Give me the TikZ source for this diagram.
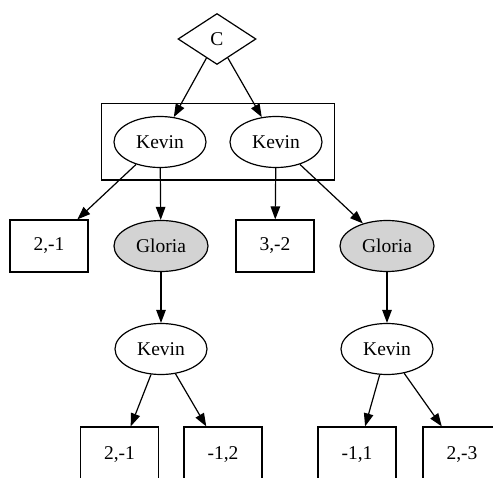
\documentclass[tikz,border=0pt]{standalone}
\usepackage{fontspec}
\setmainfont{Liberation Serif}
\usetikzlibrary{shapes.geometric,arrows.meta,fit}
\begin{document}
\begin{tikzpicture}[x=1pt,y=-1pt,
  line width=1.2pt,
  every node/.style={font=\fontsize{19.5}{23}\selectfont, inner sep=0pt},
  chance/.style={draw, diamond, minimum width=78pt, minimum height=51pt},
  player/.style={draw, ellipse, minimum width=92pt, minimum height=51pt},
  pgray/.style={player, fill={rgb,255:red,211;green,211;blue,211}, minimum width=94pt},
  payoff/.style={draw, rectangle, minimum width=78pt, minimum height=52pt},
  leaf/.style={payoff, minimum height=56pt},
  edge/.style={-{Triangle[length=13pt,width=9.5pt]}}]
\clip (0,0) rectangle (493,478);

% root chance node
\node[chance] (c) at (217,39) {C};

% first moves of Kevin (one information set)
\node[player] (k1) at (160,142) {Kevin};
\node[player] (k2) at (276,142) {Kevin};
\node[draw, rectangle, fit=(k1)(k2), inner sep=12pt] (info) {};

% second level
\node[payoff] (p1) at (49,246) {2,-1};
\node[pgray] (g1) at (161,246) {Gloria};
\node[payoff] (p2) at (275,246) {3,-2};
\node[pgray] (g2) at (387,246) {Gloria};

% third level
\node[player] (k3) at (161,349) {Kevin};
\node[player] (k4) at (387,349) {Kevin};

% leaves (their lower edges run past the bottom margin)
\node[leaf] (b1) at (119.5,455) {2,-1};
\node[leaf] (b2) at (223,455) {-1,2};
\node[leaf] (b3) at (357,455) {-1,1};
\node[leaf] (b4) at (462,455) {2,-3};

% edges
\draw[edge] (c) -- (k1);
\draw[edge] (c) -- (k2);
\draw[edge] (k1) -- (p1);
\draw[edge] (k1) -- (g1);
\draw[edge] (k2) -- (p2);
\draw[edge] (k2) -- (g2);
\draw[edge] (g1) -- (k3);
\draw[edge] (g2) -- (k4);
\draw[edge] (k3) -- (b1);
\draw[edge] (k3) -- (b2);
\draw[edge] (k4) -- (b3);
\draw[edge] (k4) -- (b4);
\end{tikzpicture}
\end{document}
